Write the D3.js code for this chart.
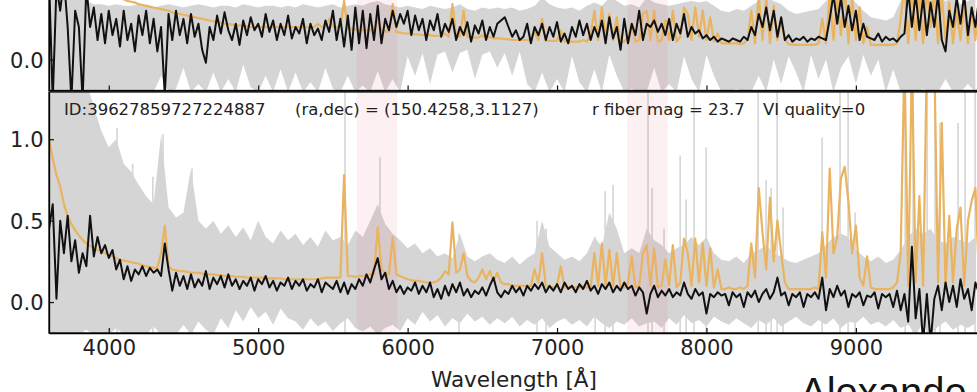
<!DOCTYPE html>
<html>
<head>
<meta charset="utf-8">
<script src="https://cdn.jsdelivr.net/npm/d3@7"></script>
<style>
  body { margin: 0; background: #fff; }
  svg { display: block; }
</style>
</head>
<body>
<div id="chart"></div>
<script>
// spectra sampled on a regular grid starting at waveStart
const waveStart = 3600;
const waveStep = 25;   // black + orange series
const grayStep = 50;   // raw flux envelope samples

const xTicks = [4000, 5000, 6000, 7000, 8000, 9000];
const yTicks = [0, 0.5, 1.0];
const maskBands = [[5660, 5930], [7470, 7740]];
const infoLabels = ["ID:39627859727224887", "(ra,dec) = (150.4258,3.1127)", "r fiber mag = 23.7", "VI quality=0"];

// bottom panel
const blackBottom = [
  0.45, 0.6, 0.02, 0.5, 0.3, 0.53, 0.25, 0.38, 0.18, 0.3,
  0.22, 0.53, 0.28, 0.4, 0.3, 0.35, 0.27, 0.32, 0.2, 0.26,
  0.14, 0.22, 0.13, 0.2, 0.17, 0.22, 0.16, 0.21, 0.18, 0.2,
  0.16, 0.36, 0.2, 0.07, 0.18, 0.1, 0.16, 0.08, 0.17, 0.09,
  0.14, 0.1, 0.19, 0.08, 0.15, 0.11, 0.16, 0.09, 0.17, 0.1,
  0.14, 0.08, 0.13, 0.1, 0.15, 0.07, 0.14, 0.11, 0.16, 0.09,
  0.13, 0.07, 0.12, 0.1, 0.15, 0.08, 0.13, 0.1, 0.14, 0.07,
  0.11, 0.09, 0.14, 0.06, 0.12, 0.1, 0.08, 0.13, 0.06, 0.12,
  0.05, 0.11, 0.08, 0.14, 0.1, 0.17, 0.12, 0.2, 0.27, 0.14,
  0.18, 0.08, 0.13, 0.06, 0.1, 0.05, 0.09, 0.07, 0.12, 0.05,
  0.1, 0.06, 0.12, 0.03, 0.08, 0.02, 0.1, 0.04, 0.11, 0.06,
  0.12, 0.04, 0.08, 0.03, 0.07, 0.05, 0.09, 0.04, 0.1, 0.15,
  0.06, 0.03, 0.07, 0.05, 0.1, 0.06, 0.09, 0.04, 0.1, 0.07,
  0.11, 0.08, 0.12, 0.06, 0.1, 0.07, 0.11, 0.06, 0.12, 0.08,
  0.1, 0.06, 0.11, 0.08, 0.13, 0.07, 0.1, 0.05, 0.11, 0.08,
  0.12, 0.06, 0.1, 0.07, 0.12, 0.08, 0.1, 0.04, 0.09, 0.06,
  -0.07, 0.05, 0.1, 0.03, 0.07, 0.04, 0.08, 0.03, 0.06, 0.04,
  0.12, 0.05, 0.02, 0.08, 0.04, 0.06, -0.07, 0.05, 0.03, 0.06,
  0.04, 0.05, -0.02, 0.06, 0.03, 0.05, -0.03, 0.06, 0.03, 0.07,
  0.0, 0.05, 0.08, 0.02, 0.06, 0.15, 0.04, 0.06, -0.02, 0.05,
  0.03, 0.06, -0.03, 0.05, 0.03, 0.06, 0.02, 0.15, -0.05, 0.08,
  0.03, 0.1, 0.04, 0.07, -0.03, 0.05, 0.03, 0.06, -0.02, 0.04,
  0.03, 0.06, -0.04, 0.05, 0.03, 0.05, -0.03, 0.07, -0.05, 0.05,
  -0.12, 0.34, -0.1, 0.08, -0.25, 0.05, -0.25, 0.02, 0.1, -0.05,
  0.12, 0.0, 0.1, -0.03, 0.14, 0.02, 0.08, -0.05, 0.12, 0.05
];
const orangeBottom = [
  1.0, 0.88, 0.78, 0.71, 0.6, 0.53, 0.48, 0.44, 0.41, 0.38,
  0.36, 0.345, 0.33, 0.32, 0.31, 0.3, 0.29, 0.28, 0.27, 0.26,
  0.255, 0.25, 0.245, 0.24, 0.235, 0.225, 0.22, 0.215, 0.21, 0.21,
  0.3, 0.47, 0.22, 0.2, 0.195, 0.19, 0.19, 0.185, 0.18, 0.18,
  0.18, 0.175, 0.17, 0.17, 0.17, 0.165, 0.165, 0.16, 0.16, 0.16,
  0.155, 0.155, 0.155, 0.15, 0.15, 0.15, 0.15, 0.15, 0.145, 0.145,
  0.145, 0.145, 0.145, 0.14, 0.14, 0.14, 0.14, 0.14, 0.14, 0.14,
  0.14, 0.14, 0.14, 0.145, 0.15, 0.15, 0.15, 0.15, 0.15, 0.78,
  0.16, 0.16, 0.155, 0.16, 0.16, 0.165, 0.17, 0.17, 0.46, 0.2,
  0.18, 0.17, 0.4, 0.17, 0.16, 0.15, 0.14, 0.135, 0.13, 0.13,
  0.125, 0.12, 0.12, 0.12, 0.13, 0.15, 0.19, 0.17, 0.49, 0.18,
  0.2, 0.3, 0.16, 0.13, 0.12, 0.15, 0.2, 0.14, 0.19, 0.13,
  0.18, 0.12, 0.11, 0.11, 0.1, 0.1, 0.1, 0.1, 0.1, 0.1,
  0.2, 0.12, 0.3, 0.1, 0.09, 0.09, 0.1, 0.22, 0.09, 0.09,
  0.09, 0.09, 0.09, 0.1, 0.09, 0.09, 0.3, 0.1, 0.36, 0.1,
  0.32, 0.1, 0.3, 0.09, 0.09, 0.12, 0.28, 0.09, 0.1, 0.3,
  0.35, 0.1, 0.33, 0.09, 0.1, 0.26, 0.1, 0.35, 0.09, 0.12,
  0.39, 0.3, 0.1, 0.39, 0.12, 0.36, 0.1, 0.33, 0.09, 0.2,
  0.08, 0.08, 0.09, 0.08, 0.08, 0.09, 0.08, 0.1, 0.36, 0.15,
  0.7, 0.43, 0.2, 0.64, 0.25, 0.5, 0.3, 0.12, 0.08, 0.08,
  0.08, 0.08, 0.08, 0.08, 0.08, 0.09, 0.08, 0.43, 0.15, 0.82,
  0.3, 0.4, 0.76, 0.83, 0.62, 0.3, 0.47, 0.15, 0.1, 0.28,
  0.09, 0.08, 0.08, 0.08, 0.08, 0.08, 0.09, 0.12, 0.3, 1.5,
  0.1, 1.5, 0.12, 0.65, 0.1, 1.5, 1.5, 1.5, 0.12, 1.1,
  0.1, 0.53, 0.12, 0.45, 0.58, 0.1, 0.5, 0.62, 0.7, 0.12
];
const grayHiBottom = [
  1.35, 1.35, 1.35, 1.35, 1.3, 1.35, 1.2, 1.05, 0.95, 1.0,
  0.85, 0.8, 0.72, 0.65, 0.6, 1.03, 0.58, 0.52, 0.55, 0.82,
  0.5, 0.45, 0.5, 0.42, 0.47, 0.4, 0.46, 0.38, 0.5, 0.4,
  0.36, 0.44, 0.38, 0.42, 0.35, 0.4, 0.34, 0.44, 0.38, 0.4,
  0.35, 0.44, 0.4, 0.5, 0.6, 0.48, 0.42, 0.38, 0.33, 0.36,
  0.3, 0.33, 0.28, 0.3, 0.27, 0.42, 0.28, 0.25, 0.28, 0.3,
  0.26, 0.24, 0.28, 0.23, 0.27, 0.3, 0.5, 0.34, 0.3, 0.26,
  0.28, 0.25, 0.3, 0.4, 0.34, 0.55, 0.45, 0.3, 0.33, 0.3,
  0.45, 0.38, 0.35, 0.3, 0.33, 0.35, 0.4, 0.35, 0.4, 0.3,
  0.26, 0.25, 0.28, 0.24, 0.3, 0.32, 0.35, 0.3, 0.28, 0.25,
  0.24, 0.26, 0.28, 0.3, 0.35, 0.4, 0.42, 0.4, 0.32, 0.28,
  0.25, 0.28, 0.24, 0.26, 0.32, 0.4, 0.45, 0.42, 0.45, 0.38,
  0.36, 0.4, 0.38, 0.36, 0.4
];
const grayLoBottom = [
  -0.2, -0.2, -0.2, -0.2, -0.2, -0.17, -0.2, -0.2, -0.2, -0.16,
  -0.2, -0.2, -0.2, -0.2, -0.15, -0.2, -0.2, -0.2, -0.14, -0.2,
  -0.12, -0.17, -0.2, -0.1, -0.16, -0.05, -0.12, -0.03, -0.1, -0.06,
  -0.14, -0.04, -0.1, -0.12, -0.17, -0.1, -0.15, -0.12, -0.18, -0.13,
  -0.1, -0.16, -0.18, -0.15, -0.2, -0.16, -0.14, -0.18, -0.1, -0.14,
  -0.06, -0.12, -0.08, -0.15, -0.1, -0.13, -0.07, -0.12, -0.09, -0.14,
  -0.1, -0.13, -0.09, -0.15, -0.11, -0.14, -0.1, -0.16, -0.12, -0.1,
  -0.14, -0.11, -0.15, -0.09, -0.13, -0.16, -0.12, -0.14, -0.1, -0.15,
  -0.13, -0.12, -0.16, -0.1, -0.14, -0.08, -0.13, -0.11, -0.15, -0.09,
  -0.12, -0.14, -0.1, -0.13, -0.16, -0.11, -0.14, -0.1, -0.15, -0.12,
  -0.09, -0.13, -0.15, -0.11, -0.14, -0.1, -0.16, -0.12, -0.13, -0.09,
  -0.14, -0.12, -0.15, -0.11, -0.16, -0.14, -0.2, -0.13, -0.2, -0.15,
  -0.12, -0.17, -0.14, -0.16, -0.13
];
// thin sky-line spikes of the raw flux: wavelength, peak
const spikeWaveBottom = [4055, 4160, 4295, 4363, 4557, 5581, 5815, 6344, 6866, 6927, 7255, 7322, 7375, 7609, 7636, 7716,
  7824, 7864, 7917, 7998, 8346, 8399, 8433, 8473, 8513, 8774, 8894, 8948, 8995, 9330, 9383, 9477, 9530, 9563, 9684, 9731, 9798];
const spikeTopBottom = [1.07, 0.85, 0.77, 1.03, 0.82, 1.35, 0.89, 0.42, 0.5, 0.45, 0.4, 0.68, 0.72, 1.35, 0.7, 0.45,
  0.9, 0.63, 1.35, 0.95, 1.35, 0.75, 0.7, 1.35, 0.58, 1.01, 1.35, 1.35, 0.55, 1.35, 1.35, 1.35, 1.35, 1.1, 1.1, 1.35, 1.35];

// top panel (only its lower part is in view)
const blackTop = [
  0.5, -0.25, 0.45, 0.3, 0.5, 0.2, -0.25, 0.3, 0.2, -0.25,
  0.45, 0.2, 0.32, 0.12, 0.28, 0.1, 0.3, 0.15, 0.25, 0.08,
  0.3, 0.12, 0.22, 0.05, 0.27, 0.15, 0.3, 0.1, 0.25, 0.05,
  0.2, -0.22, 0.28, 0.12, 0.3, 0.15, 0.25, 0.1, 0.28, 0.14,
  0.22, 0.06, -0.02, 0.2, 0.12, 0.27, 0.16, 0.29, 0.18, 0.12,
  0.22, 0.09, 0.24, 0.15, 0.26, 0.18, 0.22, 0.14, 0.28, 0.17,
  0.24, 0.12, 0.22, 0.15, 0.27, 0.13, 0.2, 0.16, 0.25, 0.1,
  0.22, 0.15, 0.19, 0.12, 0.24, 0.17, 0.3, 0.12, 0.25, 0.08,
  0.27, 0.06, 0.32, 0.1, 0.3, 0.07, 0.28, 0.12, 0.33, 0.1,
  0.25, 0.18, 0.3, 0.2, 0.28, 0.22, 0.3, 0.15, 0.27, 0.18,
  0.25, 0.12, 0.24, 0.18, 0.28, 0.14, 0.22, 0.17, 0.25, 0.12,
  0.2, 0.15, 0.23, 0.11, 0.21, 0.16, 0.24, 0.12, 0.2, 0.14,
  0.22, 0.24, 0.26, 0.2, 0.14, 0.18, 0.12, 0.14, 0.22, 0.1,
  0.2, 0.15, 0.22, 0.12, 0.2, 0.14, 0.23, 0.11, 0.16, 0.1,
  0.2, 0.14, 0.24, 0.15, 0.22, 0.12, 0.2, 0.14, 0.24, 0.1,
  0.26, 0.13, 0.2, 0.06, 0.25, 0.1, 0.22, 0.15, 0.3, 0.12,
  0.22, 0.2, 0.24, 0.17, 0.22, 0.15, 0.25, 0.12, 0.22, 0.16,
  0.28, 0.14, 0.2, 0.16, 0.18, 0.13, 0.15, 0.12, 0.14, 0.11,
  0.13, 0.12, 0.11, 0.13, 0.12, 0.11, 0.14, 0.12, 0.2, 0.15,
  0.28, 0.2, 0.32, 0.18, 0.3, 0.14, 0.26, 0.12, 0.15, 0.11,
  0.13, 0.12, 0.14, 0.11, 0.13, 0.12, 0.14, 0.13, 0.12, 0.25,
  0.4, 0.22, 0.38, 0.2, 0.33, 0.18, 0.3, 0.12, 0.22, 0.14,
  0.13, 0.12, 0.16, 0.11, 0.14, 0.12, 0.13, 0.11, 0.14, 0.16,
  0.42, 0.2, 0.4, 0.18, 0.38, 0.15, 0.35, 0.2, 0.4, 0.12,
  0.05, 0.3, 0.2, 0.38, 0.22, 0.4, 0.15, 0.32, 0.2, 0.38
];
const orangeTop = [
  1.3, 1.15, 1.02, 0.92, 0.84, 0.77, 0.71, 0.66, 0.62, 0.58,
  0.55, 0.52, 0.49, 0.47, 0.45, 0.43, 0.42, 0.4, 0.39, 0.38,
  0.37, 0.36, 0.355, 0.35, 0.34, 0.335, 0.33, 0.325, 0.32, 0.315,
  0.31, 0.305, 0.3, 0.29, 0.285, 0.28, 0.275, 0.27, 0.265, 0.26,
  0.255, 0.25, 0.245, 0.24, 0.235, 0.23, 0.225, 0.22, 0.22, 0.215,
  0.21, 0.21, 0.205, 0.205, 0.2, 0.2, 0.2, 0.2, 0.2, 0.2,
  0.2, 0.2, 0.2, 0.2, 0.2, 0.2, 0.2, 0.2, 0.2, 0.2,
  0.2, 0.2, 0.22, 0.2, 0.2, 0.25, 0.2, 0.2, 0.2, 0.36,
  0.19, 0.19, 0.185, 0.18, 0.18, 0.18, 0.18, 0.18, 0.25, 0.18,
  0.175, 0.17, 0.34, 0.17, 0.165, 0.16, 0.16, 0.16, 0.155, 0.155,
  0.15, 0.15, 0.15, 0.145, 0.145, 0.145, 0.16, 0.14, 0.34, 0.14,
  0.14, 0.3, 0.14, 0.135, 0.135, 0.135, 0.15, 0.13, 0.14, 0.13,
  0.13, 0.13, 0.125, 0.125, 0.12, 0.12, 0.12, 0.12, 0.12, 0.12,
  0.18, 0.12, 0.25, 0.115, 0.115, 0.115, 0.115, 0.18, 0.11, 0.11,
  0.11, 0.11, 0.11, 0.12, 0.11, 0.15, 0.3, 0.12, 0.32, 0.14,
  0.28, 0.12, 0.26, 0.11, 0.11, 0.14, 0.22, 0.11, 0.12, 0.28,
  0.3, 0.12, 0.3, 0.11, 0.12, 0.24, 0.12, 0.3, 0.11, 0.14,
  0.32, 0.28, 0.12, 0.32, 0.14, 0.3, 0.12, 0.26, 0.11, 0.16,
  0.1, 0.1, 0.1, 0.1, 0.1, 0.095, 0.1, 0.12, 0.3, 0.1,
  0.4, 0.12, 0.38, 0.1, 0.33, 0.12, 0.25, 0.12, 0.095, 0.09,
  0.09, 0.09, 0.09, 0.09, 0.09, 0.09, 0.1, 0.25, 0.1, 0.4,
  0.12, 0.38, 0.15, 0.45, 0.1, 0.38, 0.12, 0.32, 0.1, 0.2,
  0.09, 0.09, 0.09, 0.09, 0.09, 0.09, 0.09, 0.1, 0.25, 0.45,
  0.1, 0.45, 0.12, 0.4, 0.1, 0.45, 0.2, 0.42, 0.1, 0.4,
  0.12, 0.35, 0.1, 0.3, 0.12, 0.35, 0.1, 0.32, 0.12, 0.4
];
const grayHiTop = [
  0.4, 0.4, 0.4, 0.4, 0.38, 0.36, 0.34, 0.34, 0.33, 0.34,
  0.33, 0.33, 0.34, 0.33, 0.32, 0.33, 0.34, 0.33, 0.32, 0.33,
  0.34, 0.33, 0.32, 0.33, 0.33, 0.32, 0.34, 0.33, 0.32, 0.33,
  0.33, 0.32, 0.33, 0.32, 0.34, 0.33, 0.32, 0.33, 0.34, 0.32,
  0.33, 0.34, 0.33, 0.35, 0.36, 0.34, 0.33, 0.32, 0.33, 0.32,
  0.31, 0.33, 0.32, 0.31, 0.32, 0.34, 0.31, 0.3, 0.32, 0.31,
  0.32, 0.31, 0.32, 0.3, 0.31, 0.33, 0.38, 0.34, 0.32, 0.31,
  0.32, 0.3, 0.33, 0.35, 0.33, 0.38, 0.36, 0.33, 0.34, 0.32,
  0.38, 0.35, 0.34, 0.33, 0.34, 0.35, 0.36, 0.35, 0.36, 0.33,
  0.3, 0.29, 0.31, 0.3, 0.33, 0.36, 0.38, 0.36, 0.34, 0.3,
  0.28, 0.29, 0.3, 0.31, 0.36, 0.4, 0.4, 0.4, 0.35, 0.3,
  0.26, 0.25, 0.24, 0.26, 0.36, 0.4, 0.4, 0.4, 0.4, 0.38,
  0.36, 0.38, 0.34, 0.36, 0.38
];
const grayLoTop = [
  -0.2, -0.2, -0.2, -0.2, -0.2, -0.2, -0.2, -0.2, -0.2, -0.2,
  -0.2, -0.2, -0.2, -0.2, -0.2, -0.1, -0.2, -0.18, -0.05, -0.2,
  -0.15, -0.2, -0.08, -0.2, -0.12, -0.2, -0.03, -0.17, -0.2, -0.1,
  -0.2, -0.06, -0.2, -0.08, -0.2, -0.14, -0.2, -0.05, -0.18, -0.2,
  -0.1, -0.2, -0.16, -0.2, -0.07, -0.2, -0.12, -0.2, 0.02, -0.1,
  0.04, -0.15, 0.03, 0.05, -0.08, 0.04, 0.06, -0.12, 0.03, 0.05,
  -0.05, 0.04, -0.1, 0.05, -0.15, -0.2, -0.08, -0.2, -0.12, -0.2,
  0.02, -0.14, -0.2, -0.06, -0.2, 0.03, -0.1, -0.2, -0.18, -0.2,
  -0.2, -0.05, -0.2, -0.15, -0.2, 0.02, -0.12, -0.2, 0.03, -0.1,
  -0.2, -0.2, -0.18, -0.2, -0.2, -0.1, -0.2, 0.0, -0.15, 0.02,
  -0.08, -0.2, 0.03, -0.12, 0.0, -0.2, -0.05, 0.02, -0.15, 0.03,
  -0.1, 0.0, -0.2, -0.06, -0.2, -0.2, -0.2, -0.18, -0.2, -0.2,
  -0.12, -0.2, -0.2, -0.15, -0.2
];

const width = 977, height = 392;
const left = 49, right = 979;
const yDomain = [-0.19, 1.29];
const grayColor = "#d5d5d5";
const orangeColor = "#e9b35f";

const svg = d3.select("#chart").append("svg")
  .attr("width", width)
  .attr("height", height);

const x = d3.scaleLinear().domain([3600, 9824]).range([left, right]);

const panels = [
  { id: "top", top: -150.5, bottom: 90.5, black: blackTop, orange: orangeTop,
    grayHi: grayHiTop, grayLo: grayLoTop, spikeWave: [], spikeTop: [], labels: false },
  { id: "bottom", top: 92, bottom: 333, black: blackBottom, orange: orangeBottom,
    grayHi: grayHiBottom, grayLo: grayLoBottom, spikeWave: spikeWaveBottom, spikeTop: spikeTopBottom, labels: true }
];

panels.forEach(function(p) {
  const y = d3.scaleLinear().domain(yDomain).range([p.bottom, p.top]);
  const g = svg.append("g");

  svg.append("clipPath").attr("id", "clip-" + p.id)
    .append("rect")
    .attr("x", left).attr("y", p.top)
    .attr("width", right - left).attr("height", p.bottom - p.top);

  const plot = g.append("g").attr("clip-path", "url(#clip-" + p.id + ")");

  // raw flux envelope
  const grayArea = d3.area()
    .x((d, i) => x(waveStart + i * grayStep))
    .y0((d, i) => y(p.grayLo[i]))
    .y1(d => y(d));
  plot.append("path").datum(p.grayHi)
    .attr("d", grayArea)
    .attr("fill", grayColor);

  plot.append("g").selectAll("line")
    .data(p.spikeWave)
    .enter().append("line")
    .attr("x1", d => x(d)).attr("x2", d => x(d))
    .attr("y1", y(yDomain[0]))
    .attr("y2", (d, i) => y(p.spikeTop[i]))
    .attr("stroke", grayColor)
    .attr("stroke-width", 1.6);

  // masked camera overlap regions
  plot.append("g").selectAll("rect")
    .data(maskBands)
    .enter().append("rect")
    .attr("x", d => x(d[0]))
    .attr("width", d => x(d[1]) - x(d[0]))
    .attr("y", p.top)
    .attr("height", p.bottom - p.top)
    .attr("fill", "rgb(235,70,100)")
    .attr("opacity", 0.08);

  const orangeLine = d3.line()
    .x((d, i) => x(waveStart + i * waveStep))
    .y(d => y(d));
  plot.append("path").datum(p.orange)
    .attr("d", orangeLine)
    .attr("fill", "none")
    .attr("stroke", orangeColor)
    .attr("stroke-width", 2.2)
    .attr("stroke-linejoin", "round");

  const blackLine = d3.line()
    .x((d, i) => x(waveStart + i * waveStep))
    .y(d => y(d));
  plot.append("path").datum(p.black)
    .attr("d", blackLine)
    .attr("fill", "none")
    .attr("stroke", "#111")
    .attr("stroke-width", 2)
    .attr("stroke-linejoin", "round");

  // frame
  g.append("rect")
    .attr("x", left).attr("y", p.top)
    .attr("width", right - left).attr("height", p.bottom - p.top)
    .attr("fill", "none")
    .attr("stroke", "#111")
    .attr("stroke-width", 1.3);

  const xAxis = d3.axisBottom(x)
    .tickValues(xTicks)
    .tickSizeInner(-5)
    .tickSizeOuter(0)
    .tickPadding(7)
    .tickFormat(p.labels ? d3.format("d") : "");
  const ax = g.append("g")
    .attr("transform", "translate(0," + p.bottom + ")")
    .call(xAxis)
    .attr("font-family", "DejaVu Sans")
    .attr("font-size", 21);
  ax.select(".domain").attr("stroke-width", 1.3);
  ax.selectAll(".tick line").attr("stroke", "#111").attr("stroke-width", 1.2);
  ax.selectAll(".tick text").attr("fill", "#222");

  // only the ticks that fall inside the window
  const yAxis = d3.axisLeft(y)
    .tickValues(yTicks.filter(t => y(t) > 8))
    .tickSizeInner(-5)
    .tickSizeOuter(0)
    .tickPadding(5.5)
    .tickFormat(d3.format(".1f"));
  const ay = g.append("g")
    .attr("transform", "translate(" + left + ",0)")
    .call(yAxis)
    .attr("font-family", "DejaVu Sans")
    .attr("font-size", 21);
  ay.select(".domain").attr("stroke-width", 1.3);
  ay.selectAll(".tick line").attr("stroke", "#111").attr("stroke-width", 1.2);
  ay.selectAll(".tick text").attr("fill", "#222").attr("dy", "0.36em");

  if (p.labels) {
    const labelX = [64, 295, 592, 763];
    g.append("g").selectAll("text")
      .data(infoLabels)
      .enter().append("text")
      .attr("x", (d, i) => labelX[i])
      .attr("y", p.top + 22.5)
      .attr("font-family", "DejaVu Sans")
      .attr("font-size", 16.5)
      .attr("fill", "#222")
      .text(d => d);
  }
});

svg.append("text")
  .attr("x", (left + right) / 2)
  .attr("y", 387)
  .attr("text-anchor", "middle")
  .attr("font-family", "DejaVu Sans")
  .attr("font-size", 21.5)
  .attr("fill", "#222")
  .text("Wavelength [Å]");

svg.append("text")
  .attr("x", 800)
  .attr("y", 406)
  .attr("font-family", "Liberation Sans, Arial, sans-serif")
  .attr("font-size", 40)
  .attr("fill", "#151515")
  .text("Alexande");
</script>
</body>
</html>
